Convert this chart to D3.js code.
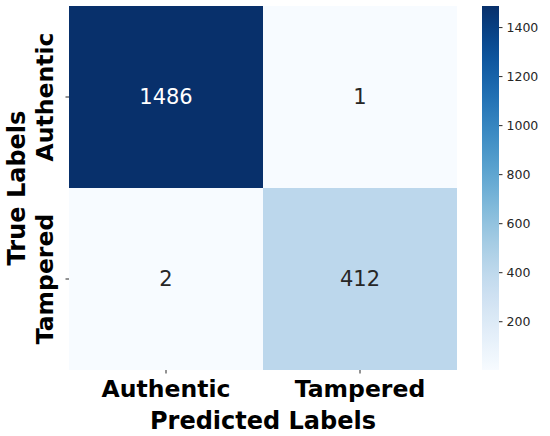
<!DOCTYPE html>
<html>
<head>
<meta charset="utf-8">
<script src="https://cdn.jsdelivr.net/npm/d3@7/dist/d3.min.js"></script>
<style>
  body { margin: 0; background: #fff; }
  text { font-family: "DejaVu Sans", sans-serif; }
</style>
</head>
<body>
<div id="chart"></div>
<script>
var trueLabels = ["Authentic", "Tampered"];
var predLabels = ["Authentic", "Tampered"];
var counts = [
    [1486, 1],
    [2, 412]
];
var cbarTicks = [200, 400, 600, 800, 1000, 1200, 1400];

var width = 550, height = 436;
var mLeft = 69, mTop = 6, mRight = 457, mBottom = 370;

var svg = d3.select("#chart").append("svg")
    .attr("width", width)
    .attr("height", height);

var cells = [];
counts.forEach(function (row, i) {
    row.forEach(function (v, j) {
        cells.push({ r: trueLabels[i], c: predLabels[j], v: v });
    });
});

var vmin = d3.min(cells, d => d.v), vmax = d3.max(cells, d => d.v);

var x = d3.scaleBand().domain(predLabels).range([mLeft, mRight]);
var y = d3.scaleBand().domain(trueLabels).range([mTop, mBottom]);
var color = d3.scaleSequential(d3.interpolateBlues).domain([vmin, vmax]);

// cells
svg.append("g").selectAll("rect")
    .data(cells)
    .enter().append("rect")
    .attr("x", d => x(d.c))
    .attr("y", d => y(d.r))
    .attr("width", x.bandwidth())
    .attr("height", y.bandwidth())
    .attr("fill", d => color(d.v));

// annotations
svg.append("g").selectAll("text")
    .data(cells)
    .enter().append("text")
    .attr("x", d => x(d.c) + x.bandwidth() / 2)
    .attr("y", d => y(d.r) + y.bandwidth() / 2)
    .attr("text-anchor", "middle")
    .attr("dominant-baseline", "central")
    .style("font-size", "21px")
    .attr("fill", d => (d.v - vmin) / (vmax - vmin) > 0.6 ? "#ffffff" : "#262626")
    .text(d => d.v);

// x axis
var xAxis = svg.append("g")
    .attr("transform", "translate(0," + mBottom + ")")
    .call(d3.axisBottom(x).tickSizeOuter(0).tickSize(3.5).tickPadding(7));
xAxis.select(".domain").remove();
xAxis.selectAll("line").attr("stroke", "#262626");
xAxis.selectAll("text")
    .attr("fill", "#000")
    .style("font-size", "23.5px")
    .style("font-weight", "bold")
    .style("font-family", "DejaVu Sans");

// y axis
var yAxis = svg.append("g")
    .attr("transform", "translate(" + mLeft + ",0)")
    .call(d3.axisLeft(y).tickSizeOuter(0).tickSize(3.5));
yAxis.select(".domain").remove();
yAxis.selectAll("line").attr("stroke", "#262626");
yAxis.selectAll(".tick text")
    .attr("x", null).attr("dy", null)
    .attr("text-anchor", "middle")
    .attr("transform", "translate(-16,0) rotate(-90)")
    .attr("fill", "#000")
    .style("font-size", "23.5px")
    .style("font-weight", "bold")
    .style("font-family", "DejaVu Sans");

// axis titles
svg.append("text")
    .attr("x", (mLeft + mRight) / 2)
    .attr("y", 429)
    .attr("text-anchor", "middle")
    .style("font-size", "24px")
    .style("font-weight", "bold")
    .text("Predicted Labels");

svg.append("text")
    .attr("transform", "translate(25," + ((mTop + mBottom) / 2) + ") rotate(-90)")
    .attr("text-anchor", "middle")
    .style("font-size", "24px")
    .style("font-weight", "bold")
    .text("True Labels");

// colorbar
var cbX = 482, cbW = 17;
var cy = d3.scaleLinear().domain([vmin, vmax]).range([mBottom, mTop]);

var defs = svg.append("defs");
var grad = defs.append("linearGradient")
    .attr("id", "cbar")
    .attr("x1", 0).attr("y1", 1).attr("x2", 0).attr("y2", 0);
d3.range(0, 1.001, 0.05).forEach(function (t) {
    grad.append("stop")
        .attr("offset", t)
        .attr("stop-color", d3.interpolateBlues(t));
});

svg.append("rect")
    .attr("x", cbX)
    .attr("y", mTop)
    .attr("width", cbW)
    .attr("height", mBottom - mTop)
    .attr("fill", "url(#cbar)");

var cAxis = svg.append("g")
    .attr("transform", "translate(" + (cbX + cbW) + ",0)")
    .call(d3.axisRight(cy).tickValues(cbarTicks).tickFormat(d3.format("d"))
        .tickSize(3.5).tickPadding(4));
cAxis.select(".domain").remove();
cAxis.selectAll("line").attr("stroke", "#262626");
cAxis.selectAll("text")
    .attr("fill", "#262626")
    .style("font-size", "12.5px")
    .style("font-family", "DejaVu Sans");
</script>
</body>
</html>
